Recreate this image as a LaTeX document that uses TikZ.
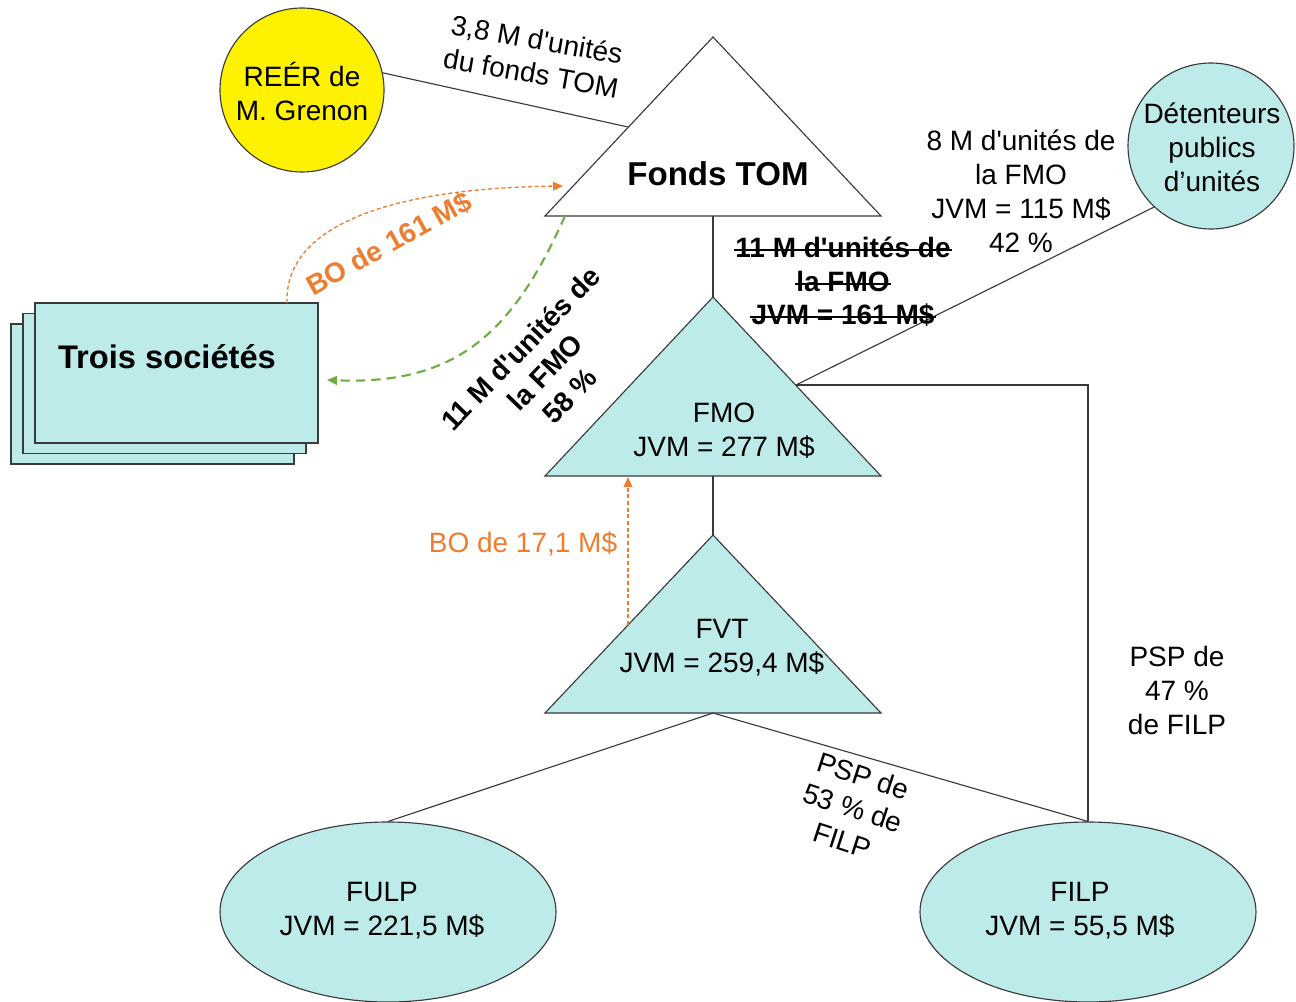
\documentclass[tikz,border=0pt]{standalone}
\usepackage{fontspec}
\setmainfont{Liberation Sans}[Ligatures=TeXOff]
\usetikzlibrary{arrows.meta,shapes.geometric}

\definecolor{aqua}{HTML}{BDEBE9}
\definecolor{boorange}{HTML}{ED7D31}
\definecolor{unitgreen}{HTML}{70AD47}
\definecolor{edge}{HTML}{3A3A3A}

\begin{document}
\begin{tikzpicture}[x=0.75pt,y=-0.75pt,
  txt/.style={font=\fontsize{21}{25.5}\selectfont, align=center, inner sep=0pt, text=black},
  boldtxt/.style={txt, font=\fontsize{21}{25.5}\selectfont\bfseries},
  bigtxt/.style={font=\fontsize{24.8}{30}\selectfont\bfseries, align=center, inner sep=0pt},
  conn/.style={draw=edge, line width=0.85pt},
  strike/.style={draw=black, line width=1.3pt},
  tri/.style={draw=edge, line width=0.85pt, line join=miter},
  holder/.style={circle, draw=edge, line width=0.85pt, inner sep=0pt},
  fund/.style={ellipse, draw=edge, line width=0.85pt, fill=aqua, inner sep=0pt,
               minimum width=252pt, minimum height=135pt},
  corp/.style={rectangle, draw=edge, line width=0.85pt, fill=aqua, inner sep=0pt,
               minimum width=212.25pt, minimum height=105pt},
  tip/.style={-{Triangle[length=7.5pt,width=6.5pt]}},
]
\useasboundingbox (0,0) rectangle (1296,1002);

% ---------- triangles (trusts) ----------
\coordinate (tomA) at (713,37);  \coordinate (tomL) at (545,216);
\coordinate (tomR) at (881,216); \coordinate (tomB) at (713,216);
\coordinate (fmoA) at (713,297); \coordinate (fmoL) at (545,476);
\coordinate (fmoR) at (881,476); \coordinate (fmoB) at (713,476);
\coordinate (fvtA) at (713,535); \coordinate (fvtL) at (545,713);
\coordinate (fvtR) at (881,713); \coordinate (fvtB) at (713,713);

\draw[tri, fill=white] (tomA) -- (tomR) -- (tomL) -- cycle;
\draw[tri, fill=aqua]  (fmoA) -- (fmoR) -- (fmoL) -- cycle;
\draw[tri, fill=aqua]  (fvtA) -- (fvtR) -- (fvtL) -- cycle;

\node[bigtxt] (tomText) at (718,174) {Fonds TOM};
\node[txt] (fmoText) at (724,431) {FMO\\JVM = 277 M\$};
\node[txt] (fvtText) at (722,648) {FVT\\JVM = 259,4 M\$};

% ---------- holders ----------
\node[holder, fill=yellow, minimum size=123pt] (reer) at (302,90) {};
\node[txt] (reerText) at (302,91) {REÉR de\\M. Grenon};
\node[holder, fill=aqua, minimum size=124.5pt] (det) at (1211,146) {};
\node[txt] (detText) at (1212,147) {Détenteurs\\publics\\d’unités};

\node[fund] (fulp) at (388,912) {};
\node[txt] (fulpText) at (382,911) {FULP\\JVM = 221,5 M\$};
\node[fund] (filp) at (1088,912) {};
\node[txt] (filpText) at (1080,911) {FILP\\JVM = 55,5 M\$};

% ---------- stacked corporations ----------
\node[corp] (ts3) at (152.5,394) {};
\node[corp] (ts2) at (164.5,383.5) {};
\node[corp] (ts1) at (176.5,373) {};
\node[font=\fontsize{24.5}{30}\selectfont\bfseries, inner sep=0pt] (tsText) at (167,357) {Trois sociétés};

% ---------- connectors ----------
\coordinate (tomEdge) at (628,127);
\coordinate (fmoEdge) at (796,385);
\coordinate (filpCorner) at (1088,385);

\draw[conn] (reer.12) -- (tomEdge);
\draw[conn] (tomB) -- (fmoA);
\draw[conn] (fmoB) -- (fvtA);
\draw[conn] (det.227) -- (fmoEdge);
\draw[conn] (filp.north) -- (filpCorner) -- (fmoEdge);
\draw[conn] (fvtB) -- (fulp.north);
\draw[conn] (fvtB) -- (filp.north);

% ---------- benefit and unit flows ----------
\coordinate (boStart) at (287,303);
\coordinate (boEnd) at (563,186);
\draw[boorange, line width=1pt, dash pattern=on 3pt off 2pt, tip]
  (boStart) .. controls (284,222) and (400,188) .. (boEnd);

\coordinate (grStart) at (565,216);
\coordinate (grEnd) at (327,380);
\draw[unitgreen, line width=1.6pt, dash pattern=on 7pt off 4.5pt, tip]
  (grStart) .. controls (512,335) and (455,385) .. (grEnd);

\coordinate (fvtEdge) at (628,625);
\coordinate (fmoBase) at (628,477);
\draw[boorange, line width=1pt, dash pattern=on 3pt off 2pt, tip]
  (fvtEdge) -- (fmoBase);

% ---------- labels ----------
\node[txt, rotate=-10] (reerLbl) at (534,56) {3,8 M d'unités\\du fonds TOM};

% struck-out former holding
\node[boldtxt] (old1) at (843,247) {11 M d'unités de};
\node[boldtxt] (old2) at (843,281) {la FMO};
\node[boldtxt] (old3) at (843,315) {JVM = 161 M\$};
\foreach \n in {old1,old2,old3}
  \draw[strike] ([xshift=-1pt,yshift=5.5pt]\n.base west) -- ([xshift=1pt,yshift=5.5pt]\n.base east);

\node[txt] (detLbl) at (1021,191) {8 M d'unités de\\la FMO\\JVM = 115 M\$\\42 \%};
\node[boldtxt, text=boorange, rotate=29] (boLbl) at (389,244) {BO de 161 M\$};
\node[boldtxt, rotate=46] (grLbl) at (545,372) {11 M d'unités de\\la FMO\\58 \%};
\node[txt, text=boorange] (bo2Lbl) at (523,544) {BO de 17,1 M\$};
\node[txt, rotate=-18] (psp53) at (853,808) {PSP de\\53 \% de\\FILP};
\node[txt] (psp47) at (1177,690) {PSP de\\47 \%\\de FILP};
\end{tikzpicture}
\end{document}
